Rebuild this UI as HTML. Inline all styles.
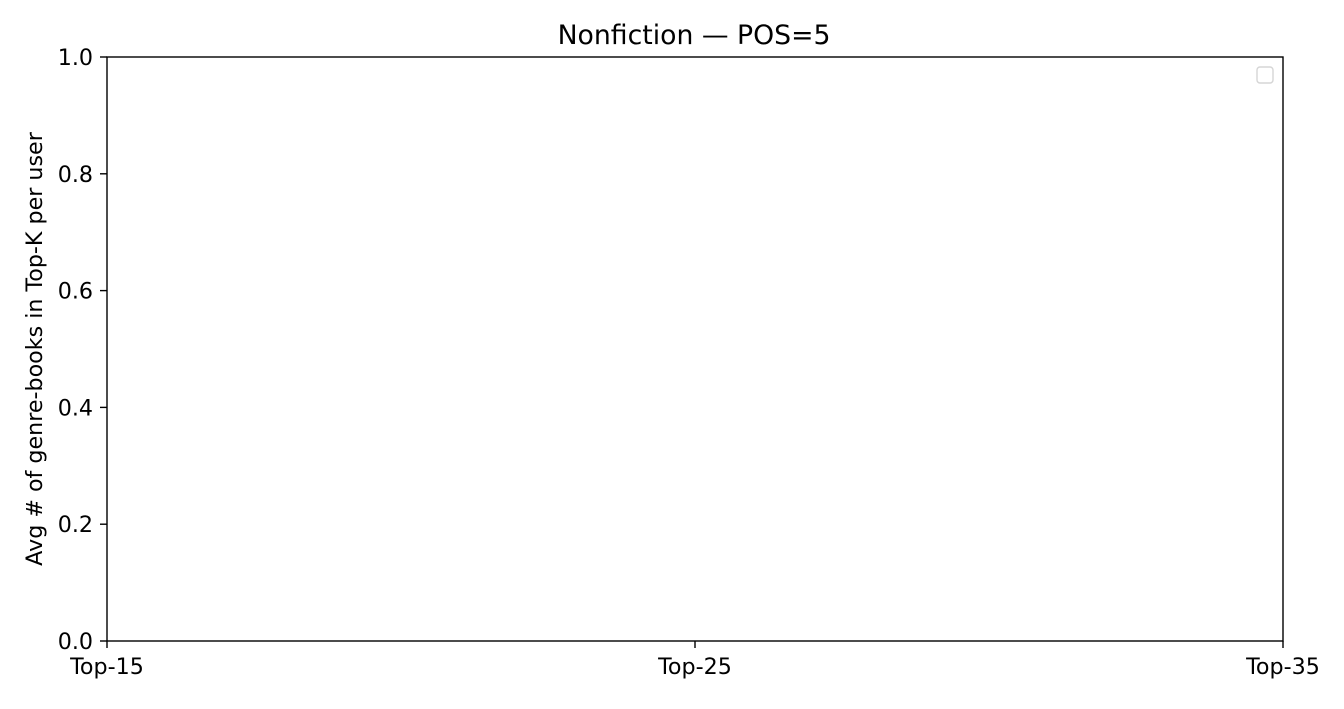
<!DOCTYPE html>
<html><head><meta charset="utf-8"><style>
body{margin:0;background:#fff;}
svg text{font-family:"DejaVu Sans","Liberation Sans",sans-serif;fill:#000;}
</style></head><body>
<svg width="1344" height="704" xmlns="http://www.w3.org/2000/svg">
<text x="694" y="44" font-size="26.7" text-anchor="middle">Nonfiction — POS=5</text>
<g id="yticks"></g>
<g id="xticks"></g>
<text transform="translate(42,349) rotate(-90)" font-size="22.2" text-anchor="middle">Avg # of genre-books in Top-K per user</text>
<rect x="107" y="57" width="1176" height="584" fill="none" stroke="#000" stroke-width="1.4"/>
<rect x="1257" y="67" width="16" height="16" rx="3" fill="#fff" stroke="#d5d5d5" stroke-width="1.4"/>
<script>
const yTickValues=[0,0.2,0.4,0.6,0.8,1.0];
const xCategories=["Top-15","Top-25","Top-35"];
const ns="http://www.w3.org/2000/svg";
function yScale(v){return 641-v*584;}
function xScale(i){return 107+i*(1176/(xCategories.length-1));}
const yg=document.getElementById('yticks');
yTickValues.forEach(v=>{
 const y=yScale(v);
 const l=document.createElementNS(ns,'line');
 l.setAttribute('x1',100);l.setAttribute('x2',107);l.setAttribute('y1',y);l.setAttribute('y2',y);
 l.setAttribute('stroke','#000');l.setAttribute('stroke-width','1.4');
 
 
 yg.appendChild(l);
 const t=document.createElementNS(ns,'text');
 t.setAttribute('x',93);t.setAttribute('y',y+8);t.setAttribute('font-size','22.2');t.setAttribute('text-anchor','end');
 t.textContent=v.toFixed(1);
 
 
 yg.appendChild(t);
});
const xg=document.getElementById('xticks');
xCategories.forEach((c,i)=>{
 const x=xScale(i);
 const l=document.createElementNS(ns,'line');
 l.setAttribute('x1',x);l.setAttribute('x2',x);l.setAttribute('y1',641);l.setAttribute('y2',648);
 l.setAttribute('stroke','#000');l.setAttribute('stroke-width','1.4');
 
 
 xg.appendChild(l);
 const t=document.createElementNS(ns,'text');
 t.setAttribute('x',x);t.setAttribute('y',674);t.setAttribute('font-size','22.2');t.setAttribute('text-anchor','middle');
 t.textContent=c;
 
 
 xg.appendChild(t);
});
</script>
</svg>
</body></html>
